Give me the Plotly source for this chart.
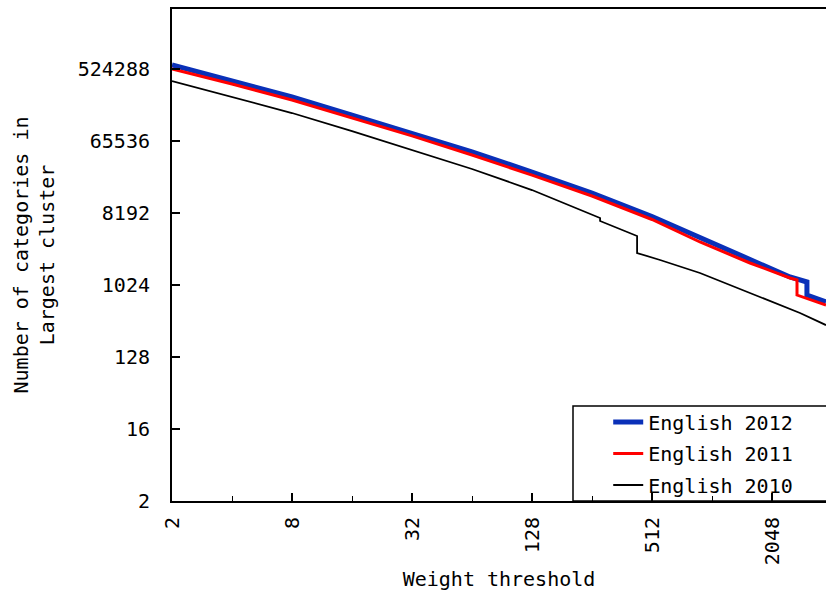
import math
import plotly.graph_objects as go

# ---- data (weight threshold, size of largest cluster) ----
w2012 = [2, 4, 8, 16, 32, 64, 128, 256, 512, 891, 1024, 1588, 2048, 2521, 3066, 3066, 3822]
v2012 = [589800, 370700, 233500, 138800, 82570, 47710, 26770, 14600, 7400, 3979, 3444, 2108, 1625, 1290, 1117, 766, 627]

w2011 = [2, 4, 8, 16, 32, 64, 128, 256, 512, 891, 1588, 2521, 2734, 2734, 3822]
v2011 = [524288, 340000, 214200, 127300, 75900, 43700, 24500, 13390, 6790, 3546, 1933, 1254, 1183, 766, 575]

w2010 = [2, 4, 8, 16, 32, 64, 128, 250, 281, 281, 431, 431, 562, 891, 1588, 2830, 3822]
v2010 = [370700, 233500, 147100, 87400, 50500, 29200, 15900, 7960, 7090, 6500, 4217, 2580, 2108, 1448, 813, 456, 322]

start_w = [2]
start_v = [524288]

x_ticks = [2, 8, 32, 128, 512, 2048]
x_minor = [4, 16, 64, 256, 1024]
y_ticks = [2, 16, 128, 1024, 8192, 65536, 524288]

FONT = "DejaVu Sans Mono, Liberation Mono, monospace"

fig = go.Figure()
fig.add_trace(go.Scatter(x=w2012, y=v2012, mode="lines", name="English 2012", legend="legend",
                         line=dict(color="#0a30b8", width=5)))
fig.add_trace(go.Scatter(x=w2011, y=v2011, mode="lines", name="English 2011", legend="legend2",
                         line=dict(color="#ff0000", width=3)))
fig.add_trace(go.Scatter(x=w2010, y=v2010, mode="lines", name="English 2010", legend="legend3",
                         line=dict(color="#000000", width=1.8)))
fig.add_trace(go.Scatter(x=start_w, y=start_v, mode="markers", showlegend=False,
                         marker=dict(color="#9bbb59", size=6), cliponaxis=False))

fig.update_xaxes(
    type="log", range=[math.log10(2), math.log10(2 ** 11.9)],
    tickmode="array", tickvals=x_ticks, ticktext=[str(v) for v in x_ticks],
    tickangle=-90, ticks="inside", ticklen=8, tickwidth=1.5, tickcolor="black",
    ticklabelstandoff=6,
    minor=dict(tickmode="array", tickvals=x_minor, ticks="inside", ticklen=5,
               tickwidth=1, tickcolor="black", showgrid=False),
    showline=True, linecolor="black", linewidth=2, mirror=True,
    showgrid=False, zeroline=False,
    title=dict(text="Weight threshold", font=dict(size=20), standoff=14),
)
fig.update_yaxes(
    type="log", range=[math.log10(2), 21.5 * math.log10(2)],
    tickmode="array", tickvals=y_ticks, ticktext=[str(v) for v in y_ticks],
    ticks="inside", ticklen=8, tickwidth=1.5, tickcolor="black",
    ticklabelstandoff=16,
    showline=True, linecolor="black", linewidth=2,
    showgrid=False, zeroline=False,
    title=dict(text="Number of categories in<br>Largest cluster", font=dict(size=20), standoff=18),
)

fig.add_shape(type="rect", xref="paper", yref="paper",
              x0=(573 - 172) / 654, x1=1.05, y0=0, y1=(501 - 406) / 492,
              line=dict(color="black", width=1.5), layer="below")

leg_common = dict(xanchor="left", yanchor="middle", bgcolor="rgba(0,0,0,0)", borderwidth=0,
                  itemwidth=30, font=dict(family=FONT, size=20, color="black"))
fig.update_layout(
    width=826, height=591,
    margin=dict(l=172, r=0, t=9, b=90, autoexpand=False),
    plot_bgcolor="white", paper_bgcolor="white",
    font=dict(family=FONT, size=20, color="black"),
    legend=dict(x=0.667, y=(501 - 422) / 492, **leg_common),
    legend2=dict(x=0.667, y=(501 - 453.5) / 492, **leg_common),
    legend3=dict(x=0.667, y=(501 - 485) / 492, **leg_common),
)

fig.write_html("out.html")
